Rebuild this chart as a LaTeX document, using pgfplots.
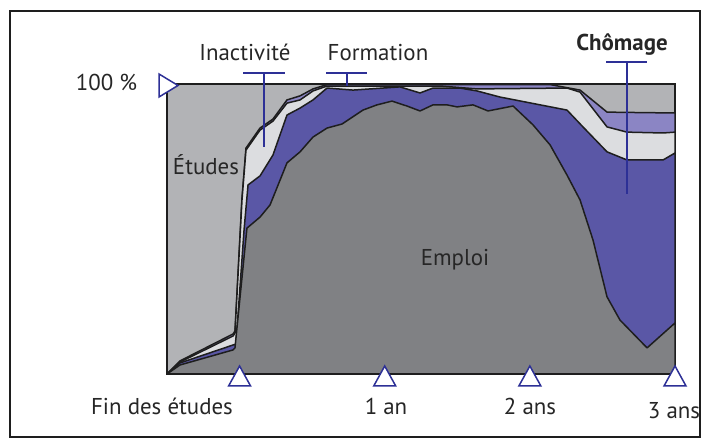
\documentclass[border=0pt]{standalone}
\usepackage{pgfplots}
\pgfplotsset{compat=1.18}
\usepackage{fontspec}
\setmainfont{PT Sans}
\definecolor{emploi}{RGB}{128,129,132}
\definecolor{chom}{RGB}{90,87,166}
\definecolor{inact}{RGB}{220,221,224}
\definecolor{form}{RGB}{139,133,196}
\definecolor{etud}{RGB}{178,179,182}
\definecolor{annot}{RGB}{45,48,150}
\definecolor{edge}{RGB}{30,30,30}
\begin{document}
\fontsize{23}{26}\selectfont
\begin{tikzpicture}[x=1bp,y=1bp]
\path (0,0) rectangle (710,448);
\draw[line width=1.2bp, edge] (10,11) rectangle (700,437);
\begin{axis}[at={(167bp,74bp)}, anchor=south west, width=508bp, height=290bp,
  scale only axis, xmin=-6, xmax=36, ymin=0, ymax=100,
  xtick=\empty, ytick=\empty,
  axis background/.style={fill=etud},
  axis line style={line width=1.5bp, edge},
  clip=false]
\addplot[fill=form, draw=edge, line width=1.5bp, line join=round] coordinates {
(-6,0) (-4.93,4.5) (-0.54,13.8) (-0.38,14.8) (0.20,60.7) (0.53,77.9) (1.69,84.8) (2.76,87.9) (3.92,94.5) (5.0,95.9) (6.07,98.3) (7.23,99.8) (25.67,99.8) (28.15,97.9) (30.38,90.3) (32.03,90.2) (36,90.0)
} \closedcycle;
\addplot[fill=inact, draw=edge, line width=1.5bp, line join=round] coordinates {
(-6,0) (-4.93,4.1) (-0.54,13.1) (-0.38,14.1) (0.20,60.0) (0.53,77.2) (1.69,84.1) (2.76,87.2) (3.92,93.4) (5.0,94.5) (6.07,97.6) (7.23,99.3) (16.57,99.3) (19.63,98.3) (27.07,98.6) (28.15,97.2) (30.38,85.2) (32.03,83.4) (35.01,83.1) (36,83.4)
} \closedcycle;
\addplot[fill=chom, draw=edge, line width=1.5bp, line join=round] coordinates {
(-6,0) (-4.93,3.8) (-0.54,10.0) (-0.30,10.3) (0.37,49.7) (0.70,65.2) (1.69,68.3) (2.76,75.5) (3.92,89.3) (5.0,91.7) (6.07,94.5) (7.23,98.6) (9.38,97.9) (13.26,99.0) (14.92,96.9) (15.99,98.6) (18.22,98.6) (19.63,97.6) (21.53,95.5) (27.07,91.0) (28.39,85.2) (30.38,76.6) (32.03,73.8) (35.01,73.8) (36,76.2)
} \closedcycle;
\addplot[fill=emploi, draw=edge, line width=1.5bp, line join=round] coordinates {
(-6,0) (-4.93,3.1) (-0.54,8.3) (-0.38,9.0) (0.61,50.3) (1.69,54.1) (2.52,58.3) (3.92,72.8) (5.0,76.6) (6.07,81.7) (7.23,84.8) (8.47,86.2) (10.2,91.0) (11.36,92.8) (12.6,94.1) (13.84,92.4) (14.92,90.7) (15.99,92.8) (17.15,92.8) (17.98,92.1) (19.3,92.8) (20.54,90.7) (22.61,92.4) (24.26,85.9) (25.67,79.0) (27.07,68.6) (28.15,60.0) (29.22,46.2) (30.38,26.6) (31.45,18.6) (33.69,9.0) (36,17.6)
} \closedcycle;
\coordinate (t0) at (axis cs:0,0);
\coordinate (t1) at (axis cs:12,0);
\coordinate (t2) at (axis cs:24,0);
\coordinate (t3) at (axis cs:36,0);
\end{axis}
% annotations
\node[anchor=base, text=black!85] at (206,273) {Études};
\node[anchor=base, text=black!85] at (455,182) {Emploi};
\node[anchor=base, text=black!85] at (245,387) {Inactivité};
\node[anchor=base, text=black!85] at (378,387) {Formation};
\node[anchor=base, text=black!85, font=\bfseries] at (622,397) {Chômage};
\draw[annot, line width=1.6bp] (243,375) -- (285,375) (264,375) -- (264,301);
\draw[annot, line width=1.6bp] (326,375) -- (367,375) (347,375) -- (347,362);
\draw[annot, line width=1.6bp] (606,386) -- (647,386) (627,386) -- (627,254);
% 100 % marker
\node[anchor=base east, text=black!85] at (145,357) {100 \%};
\draw[annot, fill=white, line width=1.5bp, line join=miter] (159,374) -- (178,362.5) -- (159,351) -- cycle;
% bottom tick triangles and labels
\foreach \t in {t0,t1,t2,t3}{
  \draw[annot, fill=white, line width=1.5bp] ([yshift=8bp]\t) -- ++(-11,-20) -- ++(22,0) -- cycle;
}
\node[anchor=base, text=black!85] at (162,33) {Fin des études};
\node[anchor=base, text=black!85] at (386,33) {1 an};
\node[anchor=base, text=black!85] at (530,33) {2 ans};
\node[anchor=base, text=black!85] at (674,29) {3 ans};
\end{tikzpicture}
\end{document}
